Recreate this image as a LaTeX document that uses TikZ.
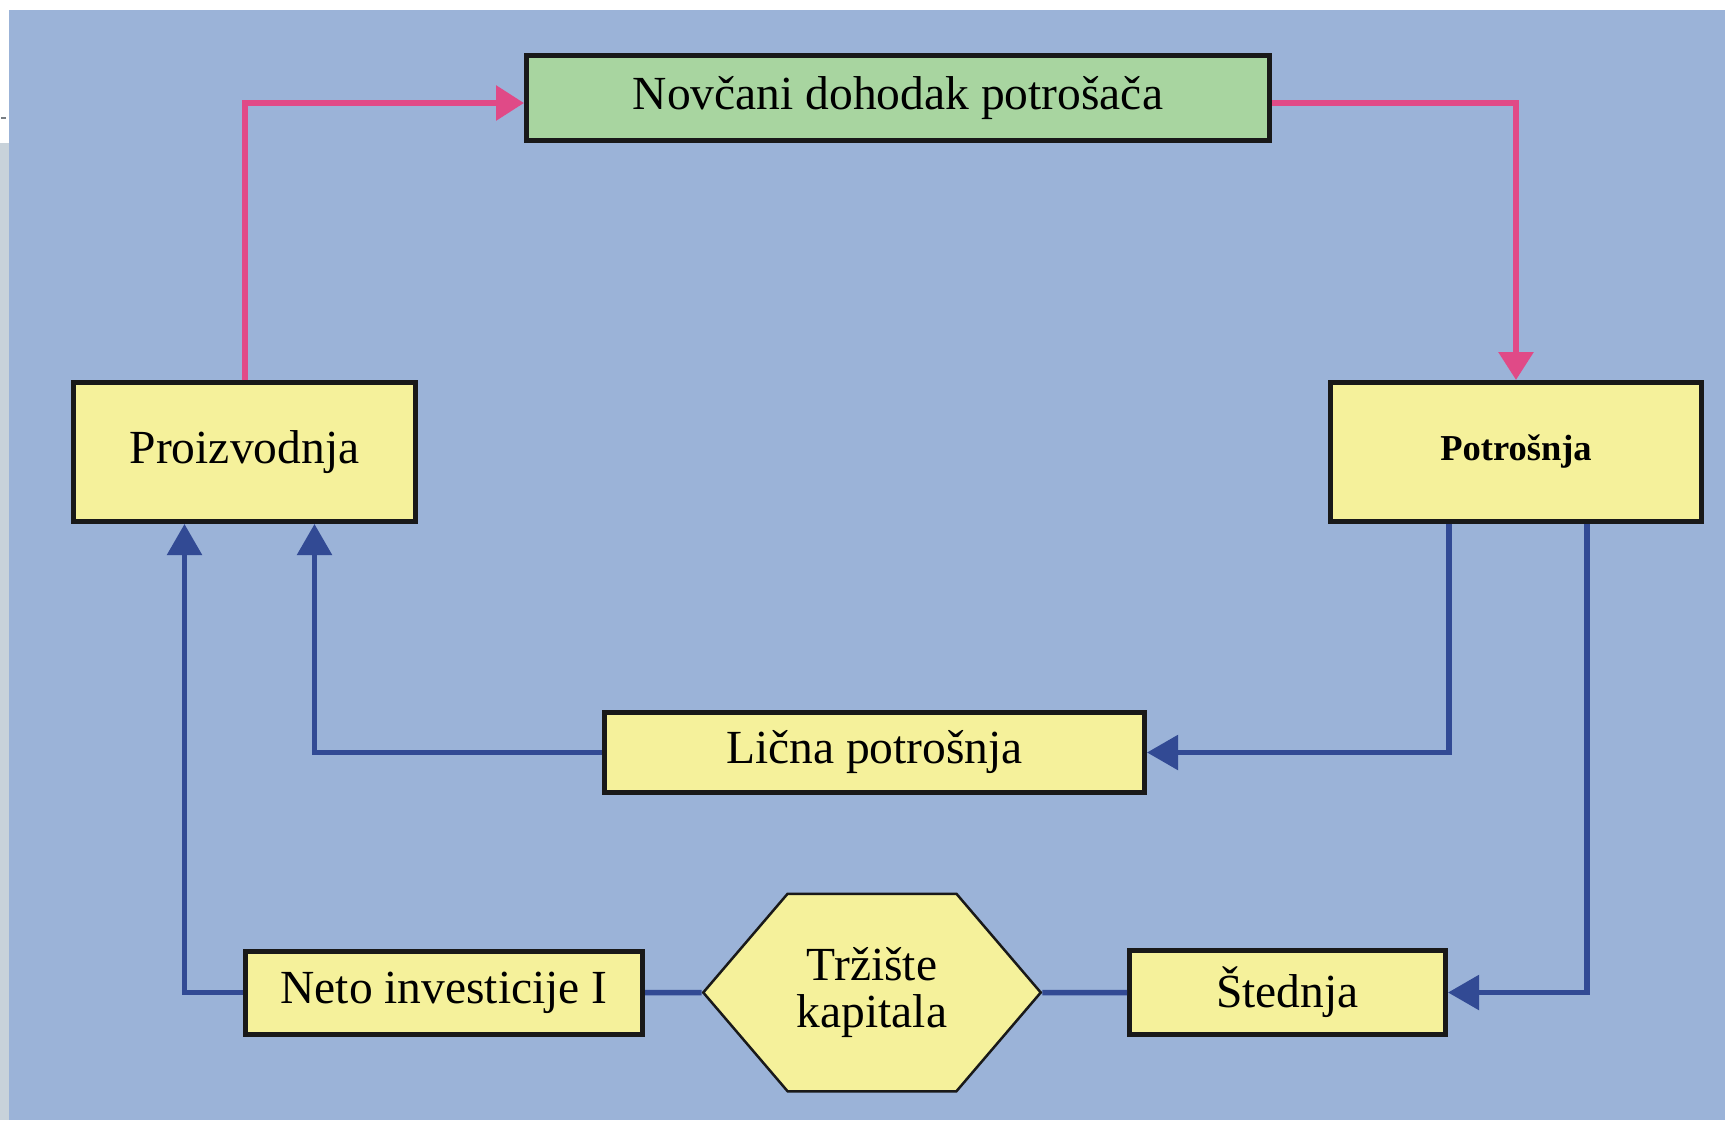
\documentclass[tikz,border=0pt]{standalone}
\usepackage{fontspec}
\setmainfont{Liberation Serif}
\usetikzlibrary{arrows.meta,shapes.symbols}
\definecolor{bgblue}{HTML}{9BB3D8}
\definecolor{stripgray}{HTML}{C8D2DA}
\definecolor{boxgreen}{HTML}{A8D5A0}
\definecolor{boxyellow}{HTML}{F5F19B}
\definecolor{boxline}{HTML}{191919}
\definecolor{flowpink}{HTML}{E04A87}
\definecolor{flowblue}{HTML}{324A94}
\begin{document}
\begin{tikzpicture}[x=0.5pt, y=-0.5pt,
    box/.style={draw=boxline, line width=2.5pt, fill=boxyellow, inner sep=0pt,
      font=\fontsize{23.75pt}{23.5pt}\selectfont},
    pinkflow/.style={draw=flowpink, line width=3pt, -{Triangle[length=14pt,width=17pt]}},
    blueflow/.style={draw=flowblue, line width=2.75pt, -{Triangle[length=15.5pt,width=17pt]}},
    blueline/.style={draw=flowblue, line width=2.75pt}]
    \useasboundingbox (0,0) rectangle (1725,1120);
    \fill[white] (0,0) rectangle (1725,1120);
    \fill[stripgray] (0,143) rectangle (9,1120);
    \draw[stripgray!60!black, line width=1pt] (1,118) -- (6,118);
    \fill[bgblue] (9,10) rectangle (1725,1120);
    % boxes
    \node[box, fill=boxgreen, minimum width=371.5pt, minimum height=42.5pt] (novac) at (898, 98) {Novčani dohodak potrošača};
    \node[box, minimum width=171pt, minimum height=69.5pt] (proiz) at (244.5, 452) {Proizvodnja};
    \node[box, minimum width=185.5pt, minimum height=69.5pt, font=\fontsize{18.25pt}{20pt}\selectfont\bfseries] (potr) at (1516, 452) {Potrošnja};
    \node[box, minimum width=270pt, minimum height=40pt] (licna) at (874.5, 752.5) {Lična potrošnja};
    \node[box, minimum width=198.5pt, minimum height=41.5pt] (neto) at (444, 992.5) {Neto investicije I};
    \node[box, minimum width=158pt, minimum height=42pt] (stednja) at (1287.5, 992.5) {Štednja};
    \node[box, line width=1.25pt, signal, signal to=west and east, signal pointer angle=99,
      minimum width=168.75pt, minimum height=98.75pt, align=center] (trz) at (872, 992.5) {Tržište\\kapitala};
    % flows
    \draw[pinkflow] (proiz.north) |- ([yshift=-2.5pt]novac.west);
    \draw[pinkflow] ([yshift=-2.5pt]novac.east) -| (potr.north);
    \draw[blueflow] ([xshift=-33.5pt]potr.south) |- (licna.east);
    \draw[blueflow] ([xshift=35.5pt]potr.south) |- (stednja.east);
    \draw[blueflow] (licna.west) -| ([xshift=35pt]proiz.south);
    \draw[blueflow] (neto.west) -| ([xshift=-30pt]proiz.south);
    \draw[blueline] (neto) -- (trz);
    \draw[blueline] (trz) -- (stednja);
\end{tikzpicture}
\end{document}
